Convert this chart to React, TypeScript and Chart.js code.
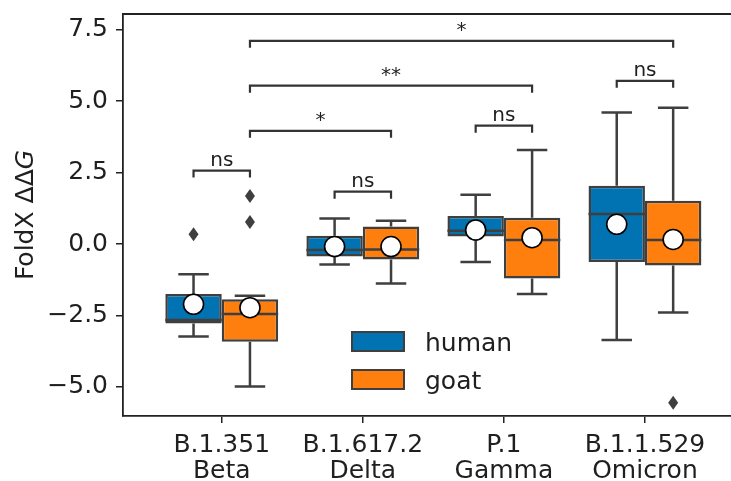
import React, { useEffect, useRef } from 'react';
import { Chart, registerables } from 'chart.js';

Chart.register(...registerables);

const categories: string[][] = [
  ['B.1.351', 'Beta'],
  ['B.1.617.2', 'Delta'],
  ['P.1', 'Gamma'],
  ['B.1.1.529', 'Omicron'],
];
const seriesNames = ['human', 'goat'];
const seriesColors = ['#0173b2', '#ff7f0e'];

const humanLow = [-3.24, -0.72, -0.63, -3.36];
const humanQ1 = [-2.78, -0.44, 0.26, -0.63];
const humanMedian = [-2.66, -0.21, 0.46, 1.05];
const humanQ3 = [-1.75, 0.29, 0.98, 2.04];
const humanHigh = [-1.06, 0.89, 1.72, 4.6];
const humanMean = [-2.11, -0.09, 0.49, 0.69];
const humanOutliers: number[][] = [[0.34], [], [], []];

const goatLow = [-4.99, -1.38, -1.75, -2.4];
const goatQ1 = [-3.42, -0.54, -1.21, -0.75];
const goatMedian = [-2.45, -0.19, 0.14, 0.14];
const goatQ3 = [-1.93, 0.61, 0.92, 1.51];
const goatHigh = [-1.81, 0.81, 3.29, 4.77];
const goatMean = [-2.23, -0.09, 0.22, 0.16];
const goatOutliers: number[][] = [[1.68, 0.77], [], [], [-5.56]];

const yTicks = [-5, -2.5, 0, 2.5, 5, 7.5];

// significance comparisons
const cmpFromCat = [0, 1, 2, 3, 0, 0, 0];
const cmpFromSeries = [0, 0, 0, 0, 1, 1, 1];
const cmpToCat = [0, 1, 2, 3, 1, 2, 3];
const cmpToSeries = [1, 1, 1, 1, 1, 1, 1];
const cmpLevel = [2.57, 1.83, 4.14, 5.71, 3.96, 5.54, 7.11];
const cmpLabel = ['ns', 'ns', 'ns', 'ns', '*', '**', '*'];

const stats = [
  { low: humanLow, q1: humanQ1, med: humanMedian, q3: humanQ3, high: humanHigh, mean: humanMean, out: humanOutliers },
  { low: goatLow, q1: goatQ1, med: goatMedian, q3: goatQ3, high: goatHigh, mean: goatMean, out: goatOutliers },
];

const FONT = 'DejaVu Sans';
const EDGE = '#3f3f3f';
const TEXT = '#1f1f1f';
const FS = 25;

const boxPlugin = {
  id: 'boxExtras',
  afterDatasetsDraw(chart: any) {
    const ctx = chart.ctx;
    const y = chart.scales.y;
    const ca = chart.chartArea;
    ctx.save();
    stats.forEach((s, si) => {
      const meta = chart.getDatasetMeta(si);
      meta.data.forEach((bar: any, ci: number) => {
        const x = bar.x;
        const w = bar.width;
        ctx.strokeStyle = EDGE;
        ctx.lineWidth = 2.5;
        ctx.lineCap = 'butt';
        ctx.beginPath();
        ctx.moveTo(x, y.getPixelForValue(s.q3[ci]));
        ctx.lineTo(x, y.getPixelForValue(s.high[ci]));
        ctx.moveTo(x, y.getPixelForValue(s.q1[ci]));
        ctx.lineTo(x, y.getPixelForValue(s.low[ci]));
        const cw = w * 0.27;
        ctx.moveTo(x - cw, y.getPixelForValue(s.high[ci]));
        ctx.lineTo(x + cw, y.getPixelForValue(s.high[ci]));
        ctx.moveTo(x - cw, y.getPixelForValue(s.low[ci]));
        ctx.lineTo(x + cw, y.getPixelForValue(s.low[ci]));
        ctx.moveTo(x - w / 2, y.getPixelForValue(s.med[ci]));
        ctx.lineTo(x + w / 2, y.getPixelForValue(s.med[ci]));
        ctx.stroke();
        ctx.fillStyle = EDGE;
        s.out[ci].forEach((v) => {
          const py = y.getPixelForValue(v);
          ctx.beginPath();
          ctx.moveTo(x, py - 7);
          ctx.lineTo(x + 5, py);
          ctx.lineTo(x, py + 7);
          ctx.lineTo(x - 5, py);
          ctx.closePath();
          ctx.fill();
        });
        const my = y.getPixelForValue(s.mean[ci]);
        ctx.beginPath();
        ctx.arc(x, my, 10, 0, Math.PI * 2);
        ctx.fillStyle = '#ffffff';
        ctx.fill();
        ctx.lineWidth = 1.6;
        ctx.strokeStyle = '#000000';
        ctx.stroke();
      });
    });
    // brackets
    ctx.strokeStyle = '#333333';
    ctx.lineWidth = 2.2;
    ctx.fillStyle = TEXT;
    ctx.font = `20px "${FONT}"`;
    ctx.textAlign = 'center';
    ctx.textBaseline = 'alphabetic';
    cmpLabel.forEach((label, i) => {
      const x1 = chart.getDatasetMeta(cmpFromSeries[i]).data[cmpFromCat[i]].x;
      const x2 = chart.getDatasetMeta(cmpToSeries[i]).data[cmpToCat[i]].x;
      const py = y.getPixelForValue(cmpLevel[i]);
      ctx.beginPath();
      ctx.moveTo(x1, py + 7);
      ctx.lineTo(x1, py);
      ctx.lineTo(x2, py);
      ctx.lineTo(x2, py + 7);
      ctx.stroke();
      ctx.fillText(label, (x1 + x2) / 2, py - 5);
    });
    // top spine
    ctx.strokeStyle = '#222222';
    ctx.lineWidth = 1.8;
    ctx.beginPath();
    ctx.moveTo(ca.left, ca.top);
    ctx.lineTo(ca.right, ca.top);
    ctx.stroke();
    // legend
    const lx = ca.left + 229;
    const ly = ca.top + 318;
    seriesNames.forEach((name, i) => {
      const top = ly + i * 38;
      ctx.fillStyle = seriesColors[i];
      ctx.fillRect(lx, top, 52, 19);
      ctx.strokeStyle = EDGE;
      ctx.lineWidth = 2;
      ctx.strokeRect(lx, top, 52, 19);
      ctx.fillStyle = TEXT;
      ctx.font = `${FS}px "${FONT}"`;
      ctx.textAlign = 'left';
      ctx.textBaseline = 'alphabetic';
      ctx.fillText(name, lx + 73, top + 19);
    });
    // y axis title
    ctx.save();
    ctx.translate(26, (ca.top + ca.bottom) / 2);
    ctx.rotate(-Math.PI / 2);
    ctx.fillStyle = TEXT;
    ctx.textBaseline = 'middle';
    ctx.textAlign = 'left';
    const p1 = 'FoldX ΔΔ';
    const p2 = 'G';
    ctx.font = `${FS}px "${FONT}"`;
    const w1 = ctx.measureText(p1).width;
    ctx.font = `italic ${FS}px "${FONT}"`;
    const w2 = ctx.measureText(p2).width;
    const start = -(w1 + w2) / 2;
    ctx.font = `${FS}px "${FONT}"`;
    ctx.fillText(p1, start, 0);
    ctx.font = `italic ${FS}px "${FONT}"`;
    ctx.fillText(p2, start + w1, 0);
    ctx.restore();
    ctx.restore();
  },
};

export default function App() {
  const ref = useRef<HTMLCanvasElement>(null);
  useEffect(() => {
    if (!ref.current) return;
    const chart = new Chart(ref.current, {
      type: 'bar',
      data: {
        datasets: stats.map((s, si) => ({
          label: seriesNames[si],
          data: categories.map((_, ci) => ({ x: ci, y: [s.q1[ci], s.q3[ci]] })) as any,
          backgroundColor: seriesColors[si],
          borderColor: EDGE,
          borderWidth: 2.5,
          borderSkipped: false,
          categoryPercentage: 0.8,
          barPercentage: 1.0,
        })),
      },
      options: {
        responsive: false,
        animation: false,
        devicePixelRatio: 1,
        layout: { padding: { top: 14, left: 0, right: 0, bottom: 0 } },
        plugins: { legend: { display: false }, tooltip: { enabled: false } },
        scales: {
          x: {
            type: 'linear',
            min: -0.7,
            max: 3.61,
            offset: false,
            afterBuildTicks: (scale: any) => {
              scale.ticks = categories.map((_, i) => ({ value: i }));
            },
            afterFit: (scale: any) => {
              scale.height = 65;
              scale.paddingLeft = 0;
              scale.paddingRight = 0;
              scale.paddingTop = 0;
              scale.paddingBottom = 0;
            },
            ticks: {
              autoSkip: false,
              maxRotation: 0,
              padding: 9,
              color: TEXT,
              font: { family: FONT, size: FS, lineHeight: 1.05 },
              callback: (v: any) => categories[Math.round(Number(v))] ?? '',
            },
            grid: { drawOnChartArea: false, drawTicks: true, tickLength: 7, color: '#222222', lineWidth: 1.5, offset: false },
            border: { display: true, color: '#222222', width: 1.8 },
          },
          y: {
            type: 'linear',
            min: -6.02,
            max: 8.05,
            afterBuildTicks: (scale: any) => {
              scale.ticks = yTicks.map((v) => ({ value: v }));
            },
            afterFit: (scale: any) => {
              scale.width = 123;
              scale.paddingLeft = 0;
              scale.paddingRight = 0;
              scale.paddingTop = 0;
              scale.paddingBottom = 0;
            },
            ticks: {
              padding: 8,
              color: TEXT,
              font: { family: FONT, size: FS },
              callback: (v: any) => Number(v).toFixed(1).replace('-', '\u2212'),
            },
            grid: { drawOnChartArea: false, drawTicks: true, tickLength: 7, color: '#222222', lineWidth: 1.5 },
            border: { display: true, color: '#222222', width: 1.8 },
          },
        },
      },
      plugins: [boxPlugin],
    });
    return () => chart.destroy();
  }, []);
  return (
    <div style={{ position: 'absolute', left: 0, top: 0, width: 731, height: 481, background: '#fff' }}>
      <canvas ref={ref} width={731} height={481} />
    </div>
  );
}
